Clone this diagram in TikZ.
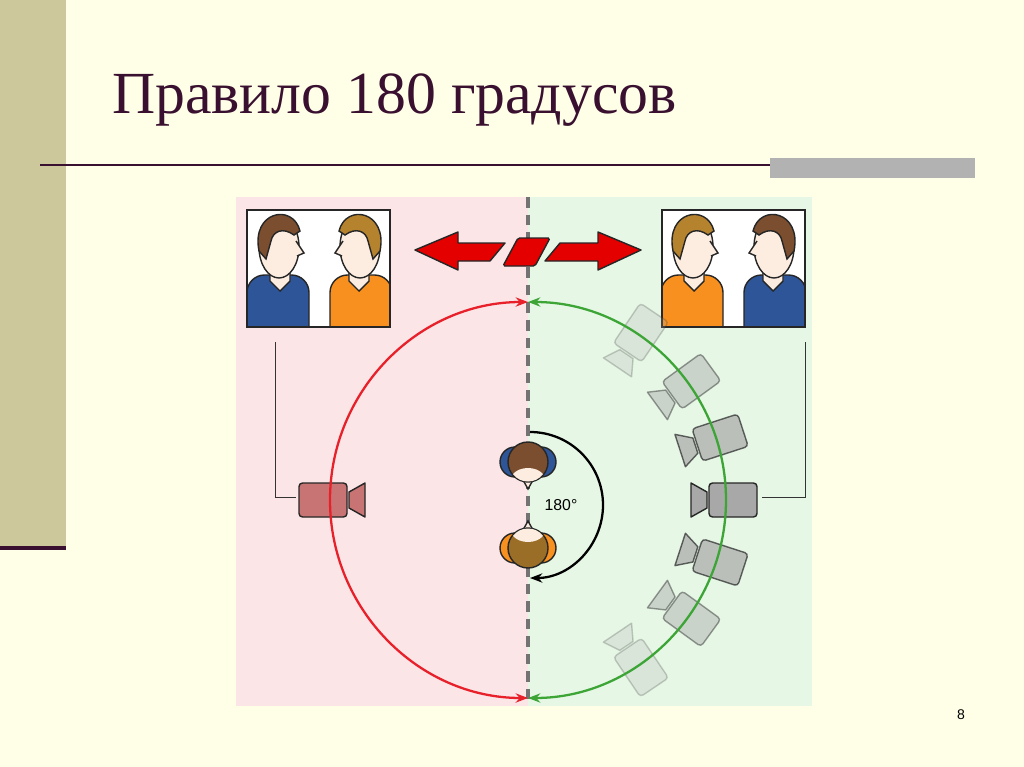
\documentclass[tikz,border=0pt]{standalone}
\usepackage{fontspec}
\setmainfont{Liberation Serif}
\setsansfont{Liberation Sans}
\usetikzlibrary{arrows.meta}
\definecolor{paper}{HTML}{FFFFE8}
\definecolor{strip}{HTML}{CCC89C}
\definecolor{plum}{HTML}{3A1030}
\definecolor{pinkbg}{HTML}{FBE5E6}
\definecolor{greenbg}{HTML}{E6F7E6}
\definecolor{shirtblue}{HTML}{2E5597}
\definecolor{shirtorange}{HTML}{F7901E}
\definecolor{hairdark}{HTML}{7A4E2E}
\definecolor{hairlight}{HTML}{B5822E}
\definecolor{skin}{HTML}{FCEDE0}
\definecolor{camred}{HTML}{C87474}
\definecolor{camgrey}{HTML}{A8A8A8}
\definecolor{arcred}{HTML}{E8202A}
\definecolor{arcgreen}{HTML}{3CA535}
\tikzset{
  outline/.style={draw=black!85, line width=0.8pt},
  cambody/.style={outline, rounded corners=2pt},
  sweep/.style={line width=1.3pt, {Stealth[length=7pt]}-{Stealth[length=7pt]}},
}
% camera on the circle: angle, radius, colour, opacity; lens toward centre
\newcommand\camera[4]{%
  \begin{scope}[shift={(528,500)}, rotate=#1, shift={(#2,0)}, opacity=#4]
    \draw[cambody, fill=#3] (0,-17) rectangle (48,17);
    \draw[outline, fill=#3, line join=round] (-2,-8) -- (-2,8) -- (-18,17) -- (-18,-17) -- cycle;
  \end{scope}}
% person in a frame, facing +x
\newcommand\person[4]{%
  \begin{scope}[shift={(#1)}, xscale=#4]
    \draw[outline, fill=#2, rounded corners=10pt] (-32,52) -- (-32,0) -- (30,0) -- (30,52);
    \draw[outline, fill=skin] (-9,-14) -- (-9,6) -- (1,16) -- (11,6) -- (11,-14);
    \draw[outline, fill=skin] (0,-28) ellipse [x radius=20, y radius=31];
    \draw[outline, fill=skin] (17,-34) -- (25,-22) -- (18,-19);
    \draw[outline, fill=#3] (-20,-24) .. controls (-28,-64) and (14,-72) .. (21,-44) -- (15,-40) .. controls (4,-48) and (-6,-44) .. (-8,-34) -- (-13,-16) -- cycle;
  \end{scope}}
% head seen from above
\newcommand\tophead[4]{%
  \begin{scope}[shift={(#1)}, yscale=#4]
    \draw[outline, fill=#2] (-13,0) circle [radius=15];
    \draw[outline, fill=#2] (13,0) circle [radius=15];
    \draw[outline, fill=skin] (-5,18) -- (0,27) -- (5,18);
    \draw[outline, fill=#3] (0,0) circle [radius=20];
    \fill[skin] (-15,12) .. controls (-8,4) and (8,4) .. (15,12) .. controls (8,22) and (-8,22) .. cycle;
  \end{scope}}
\begin{document}
\begin{tikzpicture}[x=0.02cm, y=-0.02cm]
\useasboundingbox (0,0) rectangle (1024,767);
\fill[paper] (0,0) rectangle (1024,767);
% slide frame
\fill[strip] (0,0) rectangle (66,548);
\draw[plum, line width=2pt] (0,548) -- (66,548);
\draw[plum, line width=1.6pt] (40,165) -- (975,165);
\fill[black!30] (770,158) rectangle (975,178);
\node[anchor=west, text=plum, font=\fontsize{34}{40}\selectfont] (title) at (106,100) {Правило 180 градусов};
\node[font=\sffamily\footnotesize] (page) at (961,715) {8};
% backgrounds
\fill[pinkbg] (236,197) rectangle (528,706);
\fill[greenbg] (528,197) rectangle (812,706);
\draw[black!55, line width=2pt, dash pattern=on 6pt off 4pt] (528,197) -- (528,706);
% frames
\fill[white] (247,210) rectangle (390,327);
\fill[white] (662,210) rectangle (805,327);
\begin{scope}
  \clip (247,210) rectangle (390,327);
  \person{279,275}{shirtblue}{hairdark}{1}
  \person{360,275}{shirtorange}{hairlight}{-1}
\end{scope}
\begin{scope}
  \clip (662,210) rectangle (805,327);
  \person{693,275}{shirtorange}{hairlight}{1}
  \person{774,275}{shirtblue}{hairdark}{-1}
\end{scope}
\draw[outline] (247,210) rectangle (390,327);
\draw[outline] (662,210) rectangle (805,327);
% double arrow
\draw[outline, fill=red!90!black, line join=round] (415,250) -- (458,232) -- (458,243) -- (505,243) -- (490,261) -- (458,261) -- (458,270) -- cycle;
\draw[outline, fill=red!90!black, line join=round] (641,250) -- (598,232) -- (598,243) -- (560,243) -- (545,261) -- (598,261) -- (598,270) -- cycle;
\draw[outline, fill=red!90!black, rounded corners=1pt] (518,238) -- (550,238) -- (535,266) -- (503,266) -- cycle;
% brackets
\draw[black!80] (275,342) -- (275,497) -- (296,497);
\draw[black!80] (805,342) -- (805,497) -- (762,497);
% faded cameras
\foreach \a/\o in {18/0.7, 36/0.45, 56/0.22, -18/0.7, -36/0.45, -56/0.22}
  \camera{\a}{178}{camgrey}{\o};
% cameras
\camera{0}{181}{camgrey}{1}
\camera{180}{181}{camred}{1}
% arcs
\coordinate (top) at (528,301);
\coordinate (bot) at (528,698);
\draw[arcred, sweep] (bot) arc[start angle=-90, end angle=-270, radius=198*0.02cm];
\draw[arcgreen, sweep] (bot) arc[start angle=-90, end angle=90, radius=198*0.02cm];
% actors seen from above
\tophead{528,462}{shirtblue}{hairdark}{1}
\tophead{528,548}{shirtorange}{hairlight!85!black}{-1}
\draw[black, line width=1.3pt, -{Stealth[length=7pt]}] (530,432) arc[start angle=90, end angle=-90, radius=73*0.02cm];
\node[font=\sffamily\small] (deg) at (561,505) {180°};
\end{tikzpicture}
\end{document}
